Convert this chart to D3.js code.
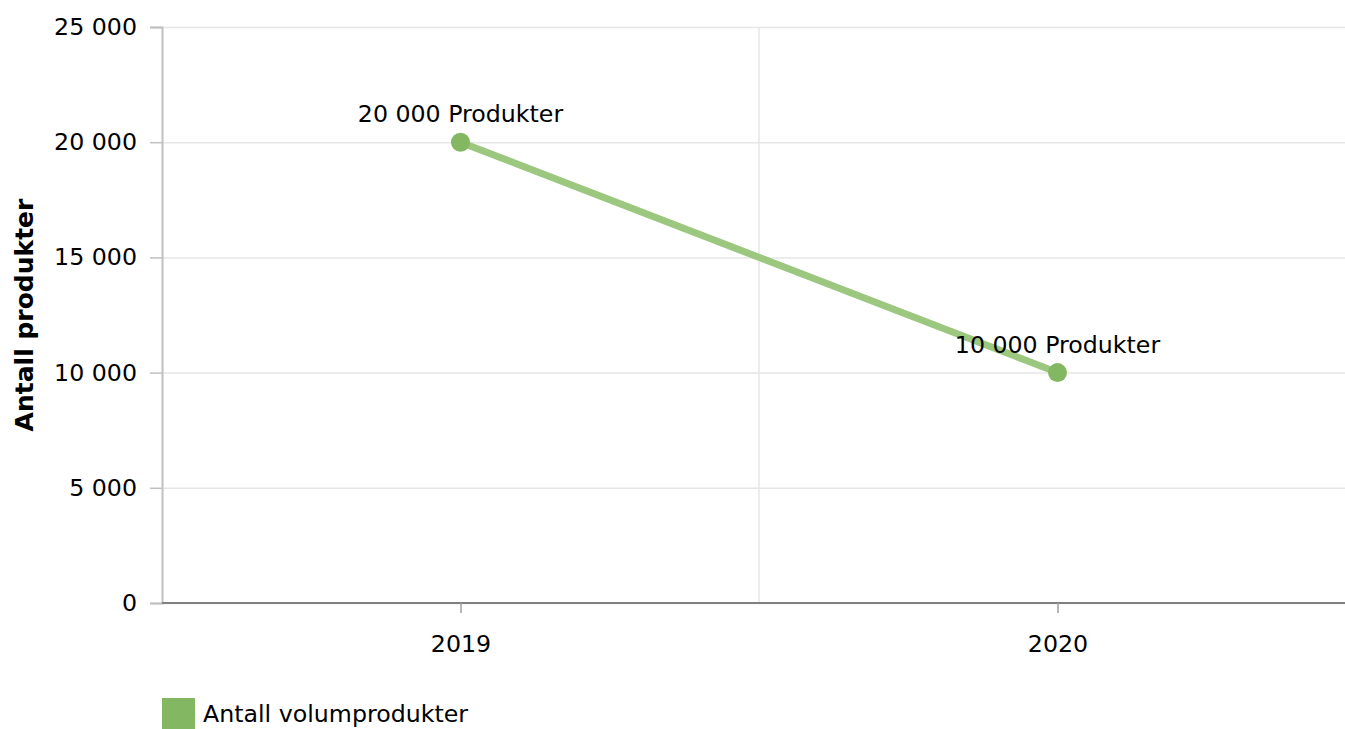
<!DOCTYPE html>
<html>
<head>
<meta charset="utf-8">
<script src="https://cdn.jsdelivr.net/npm/d3@7"></script>
<style>
  body { margin: 0; background: #fff; }
  text { font-family: "DejaVu Sans", Verdana, sans-serif; fill: #000; }
</style>
</head>
<body>
<div id="chart"></div>
<script>
var years = ["2019", "2020"];
var antall = [20000, 10000];
var yTicks = [0, 5000, 10000, 15000, 20000, 25000];
var seriesName = "Antall volumprodukter";
var yTitle = "Antall produkter";

var width = 1345, height = 729;
var margin = {top: 27, left: 162, bottom: 126};
var plotRight = 1356;
var fontSize = "23.7px";

var nb = d3.formatLocale({decimal: ",", thousands: " ", grouping: [3], currency: ["", " kr"]});
var fmt = nb.format(",d");

var svg = d3.select("#chart").append("svg")
    .attr("width", width)
    .attr("height", height);

var x = d3.scalePoint()
    .domain(years)
    .range([margin.left, plotRight])
    .padding(0.5);

var y = d3.scaleLinear()
    .domain([0, 25000])
    .range([height - margin.bottom, margin.top]);

var step = x.step();

// horizontal grid
svg.append("g").selectAll("line")
    .data(yTicks)
    .enter().append("line")
        .attr("x1", margin.left).attr("x2", width)
        .attr("y1", function(d) { return y(d) + 0.5; })
        .attr("y2", function(d) { return y(d) + 0.5; })
        .attr("stroke", "#e6e6e6")
        .attr("stroke-width", 1.5);

// vertical grid between categories
svg.append("g").selectAll("line")
    .data(years.slice(1))
    .enter().append("line")
        .attr("x1", function(d) { return x(d) - step / 2; })
        .attr("x2", function(d) { return x(d) - step / 2; })
        .attr("y1", margin.top).attr("y2", y(0))
        .attr("stroke", "#e6e6e6")
        .attr("stroke-width", 1.5);

// y axis
var yAxis = svg.append("g")
    .attr("transform", "translate(" + margin.left + ",0)")
    .call(d3.axisLeft(y).tickValues(yTicks).tickFormat(fmt).tickSize(12).tickPadding(13));
yAxis.select(".domain").attr("stroke", "#c0c0c0").attr("stroke-width", 2);
yAxis.selectAll(".tick line").attr("stroke", "#c0c0c0").attr("stroke-width", 1.5);
yAxis.selectAll("text").style("font-size", fontSize).attr("fill", "#000");

// x axis
var xAxis = svg.append("g")
    .attr("transform", "translate(0," + y(0) + ")")
    .call(d3.axisBottom(x).tickSize(10).tickPadding(22).tickSizeOuter(0));
xAxis.select(".domain").attr("stroke", "#808080").attr("stroke-width", 2)
    .attr("d", "M" + margin.left + ",0H" + plotRight);
xAxis.selectAll(".tick line").attr("stroke", "#a0a0a0").attr("stroke-width", 1.5);
xAxis.selectAll("text").style("font-size", fontSize).attr("fill", "#000");

// axis title
svg.append("text")
    .attr("transform", "translate(33," + (y(0) + y(25000)) / 2 + ") rotate(-90)")
    .attr("text-anchor", "middle")
    .style("font-size", "25px")
    .style("font-weight", "bold")
    .text(yTitle);

// line
var line = d3.line()
    .x(function(d, i) { return x(years[i]); })
    .y(function(d) { return y(d); });

svg.append("path")
    .datum(antall)
    .attr("d", line)
    .attr("fill", "none")
    .attr("stroke", "#9bc77f")
    .attr("stroke-width", 7);

svg.selectAll(".dot")
    .data(antall)
    .enter().append("circle")
        .attr("class", "dot")
        .attr("cx", function(d, i) { return x(years[i]); })
        .attr("cy", function(d) { return y(d); })
        .attr("r", 9.5)
        .attr("fill", "#84b761");

svg.selectAll(".lbl")
    .data(antall)
    .enter().append("text")
        .attr("class", "lbl")
        .attr("x", function(d, i) { return x(years[i]); })
        .attr("y", function(d) { return y(d) - 20; })
        .attr("text-anchor", "middle")
        .style("font-size", fontSize)
        .text(function(d) { return fmt(d) + " Produkter"; });

// legend
var legend = svg.append("g").attr("transform", "translate(162,698)");
legend.append("rect")
    .attr("width", 33).attr("height", 31)
    .attr("fill", "#84b761");
legend.append("text")
    .attr("x", 41).attr("y", 24)
    .style("font-size", fontSize)
    .text(seriesName);
</script>
</body>
</html>
